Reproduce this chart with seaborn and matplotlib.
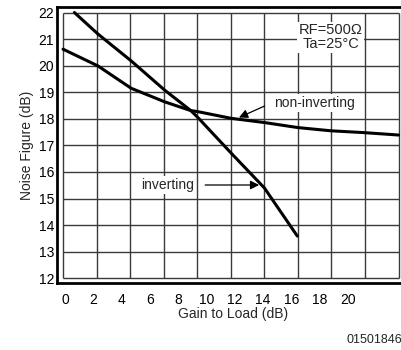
import matplotlib
matplotlib.use("Agg")
import matplotlib.pyplot as plt
import seaborn as sns
import numpy as np
import pandas as pd

# ---- data ----
noninv_gain = [-0.16, 2.31, 4.66, 7.03, 8.88, 9.38, 11.72, 14.09, 16.47, 18.79, 21.17, 23.59]
noninv_nf   = [20.62, 19.99, 19.15, 18.64, 18.31, 18.27, 18.02, 17.86, 17.67, 17.55, 17.48, 17.39]
inv_gain = [0.64, 2.31, 4.66, 7.03, 8.88, 9.38, 11.72, 14.09, 16.42]
inv_nf   = [22.00, 21.19, 20.18, 19.08, 18.31, 18.05, 16.72, 15.40, 13.59]
x_ticks = [0, 2, 4, 6, 8, 10, 12, 14, 16, 18, 20]
y_ticks = [12, 13, 14, 15, 16, 17, 18, 19, 20, 21, 22]

df = pd.concat([
    pd.DataFrame({"gain": noninv_gain, "nf": noninv_nf, "series": "non-inverting"}),
    pd.DataFrame({"gain": inv_gain, "nf": inv_nf, "series": "inverting"}),
], ignore_index=True)

sns.set_style("white")
plt.rcParams["font.family"] = ["Liberation Sans", "DejaVu Sans"]

fig = plt.figure(figsize=(4.02, 3.5), dpi=100)
ax = fig.add_axes([57 / 402, 1 - 283.3 / 350, 1.02 - 57 / 402, (283.3 - 7) / 350])
ax.set_xlim(-0.589, 24.4)
ax.set_ylim(11.812, 22.207)

# grid (inner box, evenly spaced verticals)
gx = np.linspace(-0.16, 23.59, 11)
grid_c = "#3a3a3a"
ax.hlines(y_ticks, gx[0], gx[-1], colors=grid_c, lw=1.0, zorder=1)
ax.vlines(gx, y_ticks[0], y_ticks[-1], colors=grid_c, lw=1.0, zorder=1)

sns.lineplot(data=df, x="gain", y="nf", hue="series", units="series", estimator=None,
             palette={"non-inverting": "black", "inverting": "black"},
             lw=2.2, legend=False, sort=False, ax=ax, zorder=3)

ax.set_xticks(x_ticks)
ax.set_xticklabels([str(t) for t in x_ticks])
ax.set_yticks(y_ticks)
ax.set_yticklabels([str(t) for t in y_ticks])
ax.tick_params(axis="both", length=0, labelsize=10, colors="black")
ax.tick_params(axis="x", pad=7)
ax.tick_params(axis="y", pad=2)

for s in ["left", "top", "bottom"]:
    ax.spines[s].set_visible(True)
    ax.spines[s].set_color("black")
    ax.spines[s].set_linewidth(2.0)
ax.spines["right"].set_visible(False)

ax.set_xlabel("Gain to Load (dB)", fontsize=10, labelpad=0)
ax.set_ylabel("Noise Figure (dB)", fontsize=10, labelpad=3)

box = dict(facecolor="white", edgecolor="none", pad=1.2)
ax.text(18.8, 21.06, "RF=500\u03a9\nTa=25\u00b0C", ha="center", va="center",
        fontsize=10.5, linespacing=1.0, bbox=box, zorder=4)
ax.text(17.65, 18.6, "non-inverting", ha="center", va="center", fontsize=10,
        bbox=box, zorder=4)
ax.text(7.27, 15.51, "inverting", ha="center", va="center", fontsize=10,
        bbox=box, zorder=4)

arrow = dict(arrowstyle="-|>", color="black", lw=0.9, mutation_scale=13,
             shrinkA=0, shrinkB=0)
ax.annotate("", xy=(12.29, 18.05), xytext=(14.1, 18.48), arrowprops=arrow, zorder=5)
ax.annotate("", xy=(13.72, 15.51), xytext=(9.9, 15.51), arrowprops=arrow, zorder=5)

fig.text(347 / 402, 1 - 340 / 350, "01501846", ha="left", va="center", fontsize=9)

fig.savefig("out.png", dpi=100)
